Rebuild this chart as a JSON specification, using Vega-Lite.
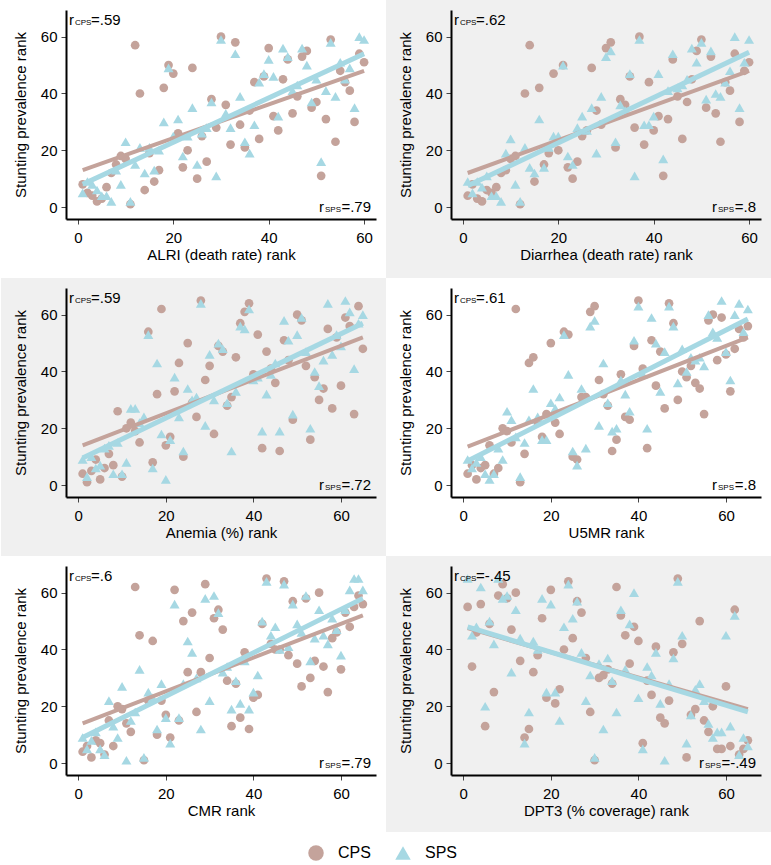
{
"$schema": "https://vega.github.io/schema/vega-lite/v6.json",
"background": "white",
"padding": 0,
"bounds": "flush",
"columns": 2,
"spacing": {"row": 69, "column": 75},
"config": {
  "font": "Liberation Sans",
  "view": {"stroke": null},
  "axis": {"grid": false, "domainColor": "#000000", "domainWidth": 2, "tickColor": "#444444", "tickSize": 5, "tickWidth": 1, "labelFont": "Liberation Sans", "labelFontSize": 15, "labelColor": "#000000", "titleFont": "Liberation Sans", "titleFontSize": 15, "titleFontWeight": "normal", "titleColor": "#000000", "labelOverlap": false, "labelFlush": false},
  "axisX": {"labelPadding": 6, "titlePadding": 2},
  "axisY": {"labelPadding": 4, "titlePadding": 12},
  "legend": {"symbolSize": 240, "labelFontSize": 16, "labelFont": "Liberation Sans", "labelColor": "#000000", "symbolStrokeWidth": 0, "symbolOpacity": 1, "labelOffset": 14, "columnPadding": 24, "padding": 0},
  "text": {"font": "Liberation Sans", "color": "#000000"}
},
"datasets": {
"p1": [
{"s":"CPS","x":1,"y":8},{"s":"CPS","x":2,"y":5},{"s":"CPS","x":3,"y":4},{"s":"CPS","x":4,"y":2},{"s":"CPS","x":5,"y":3},{"s":"CPS","x":6,"y":7},{"s":"CPS","x":7,"y":12},{"s":"CPS","x":8,"y":15},{"s":"CPS","x":9,"y":18},{"s":"CPS","x":10,"y":17},{"s":"CPS","x":11,"y":1},{"s":"CPS","x":12,"y":57},{"s":"CPS","x":13,"y":40},{"s":"CPS","x":14,"y":6},{"s":"CPS","x":15,"y":19},{"s":"CPS","x":16,"y":9},{"s":"CPS","x":17,"y":13},{"s":"CPS","x":18,"y":42},{"s":"CPS","x":19,"y":50},{"s":"CPS","x":20,"y":47},{"s":"CPS","x":21,"y":26},{"s":"CPS","x":22,"y":14},{"s":"CPS","x":23,"y":20},{"s":"CPS","x":24,"y":49},{"s":"CPS","x":25,"y":10},{"s":"CPS","x":26,"y":25},{"s":"CPS","x":27,"y":16},{"s":"CPS","x":28,"y":38},{"s":"CPS","x":29,"y":28},{"s":"CPS","x":30,"y":60},{"s":"CPS","x":31,"y":36},{"s":"CPS","x":32,"y":22},{"s":"CPS","x":33,"y":58},{"s":"CPS","x":34,"y":29},{"s":"CPS","x":35,"y":21},{"s":"CPS","x":36,"y":34},{"s":"CPS","x":37,"y":44},{"s":"CPS","x":38,"y":24},{"s":"CPS","x":39,"y":46},{"s":"CPS","x":40,"y":56},{"s":"CPS","x":41,"y":32},{"s":"CPS","x":42,"y":27},{"s":"CPS","x":43,"y":45},{"s":"CPS","x":44,"y":52},{"s":"CPS","x":45,"y":33},{"s":"CPS","x":46,"y":39},{"s":"CPS","x":47,"y":53},{"s":"CPS","x":48,"y":55},{"s":"CPS","x":49,"y":35},{"s":"CPS","x":50,"y":37},{"s":"CPS","x":51,"y":11},{"s":"CPS","x":52,"y":31},{"s":"CPS","x":53,"y":59},{"s":"CPS","x":54,"y":23},{"s":"CPS","x":55,"y":48},{"s":"CPS","x":56,"y":44},{"s":"CPS","x":57,"y":41},{"s":"CPS","x":58,"y":30},{"s":"CPS","x":59,"y":54},{"s":"CPS","x":60,"y":51},
{"s":"SPS","x":1,"y":5},{"s":"SPS","x":2,"y":9},{"s":"SPS","x":3,"y":8},{"s":"SPS","x":4,"y":6},{"s":"SPS","x":5,"y":4},{"s":"SPS","x":6,"y":4},{"s":"SPS","x":7,"y":2},{"s":"SPS","x":8,"y":13},{"s":"SPS","x":9,"y":8},{"s":"SPS","x":10,"y":23},{"s":"SPS","x":11,"y":2},{"s":"SPS","x":12,"y":15},{"s":"SPS","x":13,"y":21},{"s":"SPS","x":14,"y":12},{"s":"SPS","x":15,"y":21},{"s":"SPS","x":16,"y":13},{"s":"SPS","x":17,"y":20},{"s":"SPS","x":18,"y":30},{"s":"SPS","x":19,"y":49},{"s":"SPS","x":20,"y":25},{"s":"SPS","x":21,"y":31},{"s":"SPS","x":22,"y":18},{"s":"SPS","x":23,"y":25},{"s":"SPS","x":24,"y":35},{"s":"SPS","x":25,"y":15},{"s":"SPS","x":26,"y":26},{"s":"SPS","x":27,"y":28},{"s":"SPS","x":28,"y":37},{"s":"SPS","x":29,"y":11},{"s":"SPS","x":30,"y":59},{"s":"SPS","x":31,"y":33},{"s":"SPS","x":32,"y":28},{"s":"SPS","x":33,"y":54},{"s":"SPS","x":34,"y":39},{"s":"SPS","x":35,"y":23},{"s":"SPS","x":36,"y":19},{"s":"SPS","x":37,"y":29},{"s":"SPS","x":38,"y":44},{"s":"SPS","x":39,"y":47},{"s":"SPS","x":40,"y":52},{"s":"SPS","x":41,"y":46},{"s":"SPS","x":42,"y":32},{"s":"SPS","x":43,"y":56},{"s":"SPS","x":44,"y":53},{"s":"SPS","x":45,"y":41},{"s":"SPS","x":46,"y":43},{"s":"SPS","x":47,"y":56},{"s":"SPS","x":48,"y":50},{"s":"SPS","x":49,"y":37},{"s":"SPS","x":50,"y":45},{"s":"SPS","x":51,"y":16},{"s":"SPS","x":52,"y":41},{"s":"SPS","x":53,"y":58},{"s":"SPS","x":54,"y":39},{"s":"SPS","x":55,"y":51},{"s":"SPS","x":56,"y":45},{"s":"SPS","x":57,"y":49},{"s":"SPS","x":58,"y":35},{"s":"SPS","x":59,"y":60},{"s":"SPS","x":60,"y":59}
],
"p2": [
{"s":"CPS","x":1,"y":4},{"s":"CPS","x":2,"y":8},{"s":"CPS","x":3,"y":3},{"s":"CPS","x":4,"y":2},{"s":"CPS","x":5,"y":6},{"s":"CPS","x":6,"y":5},{"s":"CPS","x":7,"y":7},{"s":"CPS","x":8,"y":12},{"s":"CPS","x":9,"y":13},{"s":"CPS","x":10,"y":17},{"s":"CPS","x":11,"y":18},{"s":"CPS","x":12,"y":1},{"s":"CPS","x":13,"y":40},{"s":"CPS","x":14,"y":57},{"s":"CPS","x":15,"y":9},{"s":"CPS","x":16,"y":42},{"s":"CPS","x":17,"y":15},{"s":"CPS","x":18,"y":19},{"s":"CPS","x":19,"y":47},{"s":"CPS","x":20,"y":20},{"s":"CPS","x":21,"y":50},{"s":"CPS","x":22,"y":14},{"s":"CPS","x":23,"y":10},{"s":"CPS","x":24,"y":16},{"s":"CPS","x":25,"y":25},{"s":"CPS","x":26,"y":27},{"s":"CPS","x":27,"y":49},{"s":"CPS","x":28,"y":34},{"s":"CPS","x":29,"y":29},{"s":"CPS","x":30,"y":56},{"s":"CPS","x":31,"y":58},{"s":"CPS","x":32,"y":21},{"s":"CPS","x":33,"y":38},{"s":"CPS","x":34,"y":36},{"s":"CPS","x":35,"y":46},{"s":"CPS","x":36,"y":28},{"s":"CPS","x":37,"y":60},{"s":"CPS","x":38,"y":22},{"s":"CPS","x":39,"y":44},{"s":"CPS","x":40,"y":27},{"s":"CPS","x":41,"y":32},{"s":"CPS","x":42,"y":11},{"s":"CPS","x":43,"y":31},{"s":"CPS","x":44,"y":52},{"s":"CPS","x":45,"y":39},{"s":"CPS","x":46,"y":24},{"s":"CPS","x":47,"y":37},{"s":"CPS","x":48,"y":45},{"s":"CPS","x":49,"y":55},{"s":"CPS","x":50,"y":59},{"s":"CPS","x":51,"y":35},{"s":"CPS","x":52,"y":53},{"s":"CPS","x":53,"y":33},{"s":"CPS","x":54,"y":23},{"s":"CPS","x":55,"y":44},{"s":"CPS","x":56,"y":41},{"s":"CPS","x":57,"y":54},{"s":"CPS","x":58,"y":30},{"s":"CPS","x":59,"y":48},{"s":"CPS","x":60,"y":51},
{"s":"SPS","x":1,"y":9},{"s":"SPS","x":2,"y":5},{"s":"SPS","x":3,"y":9},{"s":"SPS","x":4,"y":7},{"s":"SPS","x":5,"y":11},{"s":"SPS","x":6,"y":4},{"s":"SPS","x":7,"y":4},{"s":"SPS","x":8,"y":2},{"s":"SPS","x":9,"y":19},{"s":"SPS","x":10,"y":24},{"s":"SPS","x":11,"y":8},{"s":"SPS","x":12,"y":2},{"s":"SPS","x":13,"y":21},{"s":"SPS","x":14,"y":14},{"s":"SPS","x":15,"y":12},{"s":"SPS","x":16,"y":31},{"s":"SPS","x":17,"y":14},{"s":"SPS","x":18,"y":21},{"s":"SPS","x":19,"y":25},{"s":"SPS","x":20,"y":25},{"s":"SPS","x":21,"y":50},{"s":"SPS","x":22,"y":18},{"s":"SPS","x":23,"y":15},{"s":"SPS","x":24,"y":28},{"s":"SPS","x":25,"y":32},{"s":"SPS","x":26,"y":27},{"s":"SPS","x":27,"y":35},{"s":"SPS","x":28,"y":19},{"s":"SPS","x":29,"y":39},{"s":"SPS","x":30,"y":53},{"s":"SPS","x":31,"y":55},{"s":"SPS","x":32,"y":23},{"s":"SPS","x":33,"y":36},{"s":"SPS","x":34,"y":34},{"s":"SPS","x":35,"y":47},{"s":"SPS","x":36,"y":11},{"s":"SPS","x":37,"y":59},{"s":"SPS","x":38,"y":29},{"s":"SPS","x":39,"y":29},{"s":"SPS","x":40,"y":32},{"s":"SPS","x":41,"y":47},{"s":"SPS","x":42,"y":17},{"s":"SPS","x":43,"y":41},{"s":"SPS","x":44,"y":54},{"s":"SPS","x":45,"y":42},{"s":"SPS","x":46,"y":43},{"s":"SPS","x":47,"y":45},{"s":"SPS","x":48,"y":56},{"s":"SPS","x":49,"y":51},{"s":"SPS","x":50,"y":58},{"s":"SPS","x":51,"y":38},{"s":"SPS","x":52,"y":55},{"s":"SPS","x":53,"y":40},{"s":"SPS","x":54,"y":39},{"s":"SPS","x":55,"y":44},{"s":"SPS","x":56,"y":48},{"s":"SPS","x":57,"y":60},{"s":"SPS","x":58,"y":35},{"s":"SPS","x":59,"y":51},{"s":"SPS","x":60,"y":59}
],
"p3": [
{"s":"CPS","x":1,"y":4},{"s":"CPS","x":2,"y":1},{"s":"CPS","x":3,"y":5},{"s":"CPS","x":4,"y":9},{"s":"CPS","x":5,"y":2},{"s":"CPS","x":6,"y":6},{"s":"CPS","x":7,"y":11},{"s":"CPS","x":8,"y":7},{"s":"CPS","x":9,"y":26},{"s":"CPS","x":10,"y":3},{"s":"CPS","x":11,"y":20},{"s":"CPS","x":12,"y":22},{"s":"CPS","x":13,"y":19},{"s":"CPS","x":14,"y":15},{"s":"CPS","x":16,"y":54},{"s":"CPS","x":17,"y":8},{"s":"CPS","x":18,"y":32},{"s":"CPS","x":19,"y":62},{"s":"CPS","x":20,"y":14},{"s":"CPS","x":21,"y":17},{"s":"CPS","x":22,"y":33},{"s":"CPS","x":23,"y":43},{"s":"CPS","x":24,"y":10},{"s":"CPS","x":25,"y":50},{"s":"CPS","x":26,"y":29},{"s":"CPS","x":27,"y":24},{"s":"CPS","x":28,"y":65},{"s":"CPS","x":29,"y":37},{"s":"CPS","x":30,"y":42},{"s":"CPS","x":31,"y":18},{"s":"CPS","x":32,"y":49},{"s":"CPS","x":33,"y":47},{"s":"CPS","x":34,"y":28},{"s":"CPS","x":35,"y":31},{"s":"CPS","x":36,"y":45},{"s":"CPS","x":37,"y":57},{"s":"CPS","x":38,"y":61},{"s":"CPS","x":39,"y":64},{"s":"CPS","x":40,"y":39},{"s":"CPS","x":41,"y":53},{"s":"CPS","x":42,"y":13},{"s":"CPS","x":43,"y":47},{"s":"CPS","x":44,"y":41},{"s":"CPS","x":45,"y":36},{"s":"CPS","x":46,"y":12},{"s":"CPS","x":47,"y":51},{"s":"CPS","x":48,"y":44},{"s":"CPS","x":49,"y":23},{"s":"CPS","x":50,"y":60},{"s":"CPS","x":51,"y":58},{"s":"CPS","x":52,"y":42},{"s":"CPS","x":53,"y":16},{"s":"CPS","x":54,"y":38},{"s":"CPS","x":55,"y":30},{"s":"CPS","x":56,"y":34},{"s":"CPS","x":57,"y":55},{"s":"CPS","x":58,"y":27},{"s":"CPS","x":59,"y":52},{"s":"CPS","x":60,"y":35},{"s":"CPS","x":61,"y":59},{"s":"CPS","x":62,"y":56},{"s":"CPS","x":63,"y":25},{"s":"CPS","x":64,"y":63},{"s":"CPS","x":65,"y":48},
{"s":"SPS","x":1,"y":9},{"s":"SPS","x":2,"y":3},{"s":"SPS","x":3,"y":10},{"s":"SPS","x":4,"y":6},{"s":"SPS","x":5,"y":7},{"s":"SPS","x":6,"y":13},{"s":"SPS","x":7,"y":14},{"s":"SPS","x":8,"y":4},{"s":"SPS","x":9,"y":15},{"s":"SPS","x":10,"y":4},{"s":"SPS","x":11,"y":8},{"s":"SPS","x":12,"y":27},{"s":"SPS","x":13,"y":27},{"s":"SPS","x":14,"y":22},{"s":"SPS","x":15,"y":24},{"s":"SPS","x":16,"y":53},{"s":"SPS","x":17,"y":6},{"s":"SPS","x":18,"y":43},{"s":"SPS","x":19,"y":18},{"s":"SPS","x":20,"y":2},{"s":"SPS","x":21,"y":16},{"s":"SPS","x":22,"y":38},{"s":"SPS","x":23,"y":24},{"s":"SPS","x":24,"y":12},{"s":"SPS","x":25,"y":34},{"s":"SPS","x":26,"y":30},{"s":"SPS","x":27,"y":31},{"s":"SPS","x":28,"y":64},{"s":"SPS","x":29,"y":21},{"s":"SPS","x":30,"y":46},{"s":"SPS","x":31,"y":30},{"s":"SPS","x":32,"y":50},{"s":"SPS","x":33,"y":48},{"s":"SPS","x":34,"y":29},{"s":"SPS","x":35,"y":12},{"s":"SPS","x":36,"y":33},{"s":"SPS","x":37,"y":56},{"s":"SPS","x":38,"y":55},{"s":"SPS","x":39,"y":62},{"s":"SPS","x":40,"y":37},{"s":"SPS","x":41,"y":38},{"s":"SPS","x":42,"y":19},{"s":"SPS","x":43,"y":32},{"s":"SPS","x":44,"y":39},{"s":"SPS","x":45,"y":43},{"s":"SPS","x":46,"y":19},{"s":"SPS","x":47,"y":58},{"s":"SPS","x":48,"y":51},{"s":"SPS","x":49,"y":25},{"s":"SPS","x":50,"y":53},{"s":"SPS","x":51,"y":59},{"s":"SPS","x":52,"y":47},{"s":"SPS","x":53,"y":20},{"s":"SPS","x":54,"y":40},{"s":"SPS","x":55,"y":35},{"s":"SPS","x":56,"y":44},{"s":"SPS","x":57,"y":64},{"s":"SPS","x":58,"y":46},{"s":"SPS","x":59,"y":53},{"s":"SPS","x":60,"y":49},{"s":"SPS","x":61,"y":65},{"s":"SPS","x":62,"y":61},{"s":"SPS","x":63,"y":41},{"s":"SPS","x":64,"y":57},{"s":"SPS","x":65,"y":60}
],
"p4": [
{"s":"CPS","x":1,"y":4},{"s":"CPS","x":2,"y":7},{"s":"CPS","x":3,"y":2},{"s":"CPS","x":4,"y":6},{"s":"CPS","x":5,"y":7},{"s":"CPS","x":6,"y":14},{"s":"CPS","x":7,"y":4},{"s":"CPS","x":8,"y":6},{"s":"CPS","x":9,"y":20},{"s":"CPS","x":10,"y":19},{"s":"CPS","x":11,"y":15},{"s":"CPS","x":12,"y":62},{"s":"CPS","x":13,"y":1},{"s":"CPS","x":14,"y":11},{"s":"CPS","x":15,"y":43},{"s":"CPS","x":16,"y":45},{"s":"CPS","x":17,"y":22},{"s":"CPS","x":18,"y":17},{"s":"CPS","x":19,"y":25},{"s":"CPS","x":20,"y":50},{"s":"CPS","x":21,"y":22},{"s":"CPS","x":22,"y":18},{"s":"CPS","x":23,"y":54},{"s":"CPS","x":24,"y":53},{"s":"CPS","x":25,"y":10},{"s":"CPS","x":26,"y":9},{"s":"CPS","x":27,"y":31},{"s":"CPS","x":28,"y":31},{"s":"CPS","x":29,"y":61},{"s":"CPS","x":30,"y":63},{"s":"CPS","x":31,"y":37},{"s":"CPS","x":32,"y":32},{"s":"CPS","x":33,"y":28},{"s":"CPS","x":34,"y":12},{"s":"CPS","x":35,"y":16},{"s":"CPS","x":36,"y":39},{"s":"CPS","x":37,"y":24},{"s":"CPS","x":38,"y":23},{"s":"CPS","x":39,"y":49},{"s":"CPS","x":40,"y":65},{"s":"CPS","x":41,"y":41},{"s":"CPS","x":42,"y":13},{"s":"CPS","x":43,"y":51},{"s":"CPS","x":44,"y":35},{"s":"CPS","x":45,"y":47},{"s":"CPS","x":46,"y":27},{"s":"CPS","x":47,"y":64},{"s":"CPS","x":48,"y":57},{"s":"CPS","x":49,"y":30},{"s":"CPS","x":50,"y":40},{"s":"CPS","x":51,"y":38},{"s":"CPS","x":52,"y":42},{"s":"CPS","x":53,"y":36},{"s":"CPS","x":54,"y":34},{"s":"CPS","x":55,"y":25},{"s":"CPS","x":56,"y":58},{"s":"CPS","x":57,"y":60},{"s":"CPS","x":58,"y":44},{"s":"CPS","x":59,"y":59},{"s":"CPS","x":60,"y":46},{"s":"CPS","x":61,"y":33},{"s":"CPS","x":62,"y":48},{"s":"CPS","x":63,"y":55},{"s":"CPS","x":64,"y":52},{"s":"CPS","x":65,"y":56},
{"s":"SPS","x":1,"y":9},{"s":"SPS","x":2,"y":6},{"s":"SPS","x":3,"y":8},{"s":"SPS","x":4,"y":10},{"s":"SPS","x":5,"y":4},{"s":"SPS","x":6,"y":2},{"s":"SPS","x":7,"y":4},{"s":"SPS","x":8,"y":13},{"s":"SPS","x":9,"y":9},{"s":"SPS","x":10,"y":26},{"s":"SPS","x":11,"y":23},{"s":"SPS","x":12,"y":17},{"s":"SPS","x":13,"y":3},{"s":"SPS","x":14,"y":15},{"s":"SPS","x":15,"y":23},{"s":"SPS","x":16,"y":34},{"s":"SPS","x":17,"y":24},{"s":"SPS","x":18,"y":16},{"s":"SPS","x":19,"y":16},{"s":"SPS","x":20,"y":29},{"s":"SPS","x":21,"y":27},{"s":"SPS","x":22,"y":31},{"s":"SPS","x":23,"y":53},{"s":"SPS","x":24,"y":39},{"s":"SPS","x":25,"y":12},{"s":"SPS","x":26,"y":7},{"s":"SPS","x":27,"y":34},{"s":"SPS","x":28,"y":13},{"s":"SPS","x":29,"y":56},{"s":"SPS","x":30,"y":58},{"s":"SPS","x":31,"y":21},{"s":"SPS","x":32,"y":43},{"s":"SPS","x":33,"y":29},{"s":"SPS","x":34,"y":19},{"s":"SPS","x":35,"y":20},{"s":"SPS","x":36,"y":37},{"s":"SPS","x":37,"y":32},{"s":"SPS","x":38,"y":26},{"s":"SPS","x":39,"y":51},{"s":"SPS","x":40,"y":63},{"s":"SPS","x":41,"y":39},{"s":"SPS","x":42,"y":20},{"s":"SPS","x":43,"y":59},{"s":"SPS","x":44,"y":50},{"s":"SPS","x":45,"y":33},{"s":"SPS","x":46,"y":47},{"s":"SPS","x":47,"y":63},{"s":"SPS","x":48,"y":56},{"s":"SPS","x":49,"y":36},{"s":"SPS","x":50,"y":48},{"s":"SPS","x":51,"y":40},{"s":"SPS","x":52,"y":45},{"s":"SPS","x":53,"y":44},{"s":"SPS","x":54,"y":45},{"s":"SPS","x":55,"y":42},{"s":"SPS","x":56,"y":60},{"s":"SPS","x":57,"y":54},{"s":"SPS","x":58,"y":52},{"s":"SPS","x":59,"y":65},{"s":"SPS","x":60,"y":47},{"s":"SPS","x":61,"y":37},{"s":"SPS","x":62,"y":60},{"s":"SPS","x":63,"y":64},{"s":"SPS","x":64,"y":54},{"s":"SPS","x":65,"y":62}
],
"p5": [
{"s":"CPS","x":1,"y":4},{"s":"CPS","x":2,"y":6},{"s":"CPS","x":3,"y":2},{"s":"CPS","x":4,"y":8},{"s":"CPS","x":5,"y":7},{"s":"CPS","x":6,"y":3},{"s":"CPS","x":7,"y":15},{"s":"CPS","x":8,"y":6},{"s":"CPS","x":9,"y":20},{"s":"CPS","x":10,"y":19},{"s":"CPS","x":11,"y":14},{"s":"CPS","x":12,"y":11},{"s":"CPS","x":13,"y":62},{"s":"CPS","x":14,"y":45},{"s":"CPS","x":15,"y":1},{"s":"CPS","x":16,"y":22},{"s":"CPS","x":17,"y":43},{"s":"CPS","x":18,"y":10},{"s":"CPS","x":19,"y":22},{"s":"CPS","x":20,"y":17},{"s":"CPS","x":21,"y":9},{"s":"CPS","x":22,"y":61},{"s":"CPS","x":23,"y":15},{"s":"CPS","x":24,"y":50},{"s":"CPS","x":25,"y":32},{"s":"CPS","x":26,"y":53},{"s":"CPS","x":27,"y":18},{"s":"CPS","x":28,"y":32},{"s":"CPS","x":29,"y":63},{"s":"CPS","x":30,"y":37},{"s":"CPS","x":31,"y":51},{"s":"CPS","x":32,"y":54},{"s":"CPS","x":33,"y":47},{"s":"CPS","x":34,"y":29},{"s":"CPS","x":35,"y":13},{"s":"CPS","x":36,"y":28},{"s":"CPS","x":37,"y":16},{"s":"CPS","x":38,"y":39},{"s":"CPS","x":39,"y":12},{"s":"CPS","x":40,"y":23},{"s":"CPS","x":41,"y":24},{"s":"CPS","x":42,"y":49},{"s":"CPS","x":43,"y":65},{"s":"CPS","x":44,"y":42},{"s":"CPS","x":45,"y":40},{"s":"CPS","x":46,"y":40},{"s":"CPS","x":47,"y":64},{"s":"CPS","x":48,"y":38},{"s":"CPS","x":49,"y":57},{"s":"CPS","x":50,"y":35},{"s":"CPS","x":51,"y":27},{"s":"CPS","x":52,"y":58},{"s":"CPS","x":53,"y":30},{"s":"CPS","x":54,"y":36},{"s":"CPS","x":55,"y":60},{"s":"CPS","x":56,"y":34},{"s":"CPS","x":57,"y":25},{"s":"CPS","x":58,"y":44},{"s":"CPS","x":59,"y":46},{"s":"CPS","x":60,"y":33},{"s":"CPS","x":61,"y":53},{"s":"CPS","x":62,"y":48},{"s":"CPS","x":63,"y":55},{"s":"CPS","x":64,"y":59},{"s":"CPS","x":65,"y":56},
{"s":"SPS","x":1,"y":9},{"s":"SPS","x":2,"y":5},{"s":"SPS","x":3,"y":8},{"s":"SPS","x":4,"y":11},{"s":"SPS","x":5,"y":5},{"s":"SPS","x":6,"y":3},{"s":"SPS","x":7,"y":22},{"s":"SPS","x":8,"y":13},{"s":"SPS","x":9,"y":9},{"s":"SPS","x":10,"y":27},{"s":"SPS","x":11,"y":1},{"s":"SPS","x":12,"y":15},{"s":"SPS","x":13,"y":18},{"s":"SPS","x":14,"y":33},{"s":"SPS","x":15,"y":2},{"s":"SPS","x":16,"y":25},{"s":"SPS","x":17,"y":23},{"s":"SPS","x":18,"y":12},{"s":"SPS","x":19,"y":28},{"s":"SPS","x":20,"y":16},{"s":"SPS","x":21,"y":7},{"s":"SPS","x":22,"y":56},{"s":"SPS","x":23,"y":16},{"s":"SPS","x":24,"y":28},{"s":"SPS","x":25,"y":43},{"s":"SPS","x":26,"y":39},{"s":"SPS","x":27,"y":30},{"s":"SPS","x":28,"y":12},{"s":"SPS","x":29,"y":58},{"s":"SPS","x":30,"y":22},{"s":"SPS","x":31,"y":59},{"s":"SPS","x":32,"y":53},{"s":"SPS","x":33,"y":32},{"s":"SPS","x":34,"y":34},{"s":"SPS","x":35,"y":19},{"s":"SPS","x":36,"y":29},{"s":"SPS","x":37,"y":21},{"s":"SPS","x":38,"y":36},{"s":"SPS","x":39,"y":19},{"s":"SPS","x":40,"y":25},{"s":"SPS","x":41,"y":31},{"s":"SPS","x":42,"y":50},{"s":"SPS","x":43,"y":64},{"s":"SPS","x":44,"y":45},{"s":"SPS","x":45,"y":48},{"s":"SPS","x":46,"y":40},{"s":"SPS","x":47,"y":63},{"s":"SPS","x":48,"y":41},{"s":"SPS","x":49,"y":56},{"s":"SPS","x":50,"y":49},{"s":"SPS","x":51,"y":46},{"s":"SPS","x":52,"y":59},{"s":"SPS","x":53,"y":36},{"s":"SPS","x":54,"y":44},{"s":"SPS","x":55,"y":54},{"s":"SPS","x":56,"y":45},{"s":"SPS","x":57,"y":42},{"s":"SPS","x":58,"y":51},{"s":"SPS","x":59,"y":47},{"s":"SPS","x":60,"y":38},{"s":"SPS","x":61,"y":54},{"s":"SPS","x":62,"y":61},{"s":"SPS","x":63,"y":65},{"s":"SPS","x":64,"y":65},{"s":"SPS","x":65,"y":61}
],
"p6": [
{"s":"CPS","x":1,"y":55},{"s":"CPS","x":2,"y":34},{"s":"CPS","x":3,"y":46},{"s":"CPS","x":4,"y":56},{"s":"CPS","x":5,"y":13},{"s":"CPS","x":6,"y":49},{"s":"CPS","x":7,"y":25},{"s":"CPS","x":8,"y":59},{"s":"CPS","x":9,"y":63},{"s":"CPS","x":10,"y":58},{"s":"CPS","x":11,"y":47},{"s":"CPS","x":12,"y":60},{"s":"CPS","x":13,"y":36},{"s":"CPS","x":14,"y":9},{"s":"CPS","x":15,"y":12},{"s":"CPS","x":16,"y":32},{"s":"CPS","x":17,"y":38},{"s":"CPS","x":18,"y":51},{"s":"CPS","x":19,"y":23},{"s":"CPS","x":20,"y":61},{"s":"CPS","x":21,"y":21},{"s":"CPS","x":22,"y":26},{"s":"CPS","x":23,"y":40},{"s":"CPS","x":24,"y":64},{"s":"CPS","x":25,"y":44},{"s":"CPS","x":26,"y":57},{"s":"CPS","x":27,"y":53},{"s":"CPS","x":28,"y":37},{"s":"CPS","x":29,"y":18},{"s":"CPS","x":30,"y":1},{"s":"CPS","x":31,"y":30},{"s":"CPS","x":32,"y":31},{"s":"CPS","x":33,"y":33},{"s":"CPS","x":34,"y":28},{"s":"CPS","x":35,"y":62},{"s":"CPS","x":36,"y":52},{"s":"CPS","x":37,"y":45},{"s":"CPS","x":38,"y":35},{"s":"CPS","x":39,"y":48},{"s":"CPS","x":40,"y":43},{"s":"CPS","x":41,"y":7},{"s":"CPS","x":42,"y":29},{"s":"CPS","x":43,"y":24},{"s":"CPS","x":44,"y":41},{"s":"CPS","x":45,"y":16},{"s":"CPS","x":46,"y":14},{"s":"CPS","x":47,"y":22},{"s":"CPS","x":48,"y":39},{"s":"CPS","x":49,"y":65},{"s":"CPS","x":50,"y":42},{"s":"CPS","x":51,"y":2},{"s":"CPS","x":52,"y":17},{"s":"CPS","x":53,"y":19},{"s":"CPS","x":54,"y":50},{"s":"CPS","x":55,"y":15},{"s":"CPS","x":56,"y":11},{"s":"CPS","x":57,"y":20},{"s":"CPS","x":58,"y":5},{"s":"CPS","x":59,"y":5},{"s":"CPS","x":60,"y":27},{"s":"CPS","x":61,"y":6},{"s":"CPS","x":62,"y":54},{"s":"CPS","x":63,"y":3},{"s":"CPS","x":64,"y":5},{"s":"CPS","x":65,"y":8},
{"s":"SPS","x":1,"y":65},{"s":"SPS","x":2,"y":45},{"s":"SPS","x":3,"y":48},{"s":"SPS","x":4,"y":62},{"s":"SPS","x":5,"y":20},{"s":"SPS","x":6,"y":50},{"s":"SPS","x":7,"y":42},{"s":"SPS","x":8,"y":65},{"s":"SPS","x":9,"y":58},{"s":"SPS","x":10,"y":59},{"s":"SPS","x":11,"y":32},{"s":"SPS","x":12,"y":54},{"s":"SPS","x":13,"y":44},{"s":"SPS","x":14,"y":7},{"s":"SPS","x":15,"y":18},{"s":"SPS","x":16,"y":43},{"s":"SPS","x":17,"y":40},{"s":"SPS","x":18,"y":58},{"s":"SPS","x":19,"y":25},{"s":"SPS","x":20,"y":56},{"s":"SPS","x":21,"y":25},{"s":"SPS","x":22,"y":15},{"s":"SPS","x":23,"y":48},{"s":"SPS","x":24,"y":63},{"s":"SPS","x":25,"y":51},{"s":"SPS","x":26,"y":57},{"s":"SPS","x":27,"y":39},{"s":"SPS","x":28,"y":22},{"s":"SPS","x":29,"y":31},{"s":"SPS","x":30,"y":2},{"s":"SPS","x":31,"y":35},{"s":"SPS","x":32,"y":12},{"s":"SPS","x":33,"y":37},{"s":"SPS","x":34,"y":29},{"s":"SPS","x":35,"y":18},{"s":"SPS","x":36,"y":54},{"s":"SPS","x":37,"y":33},{"s":"SPS","x":38,"y":49},{"s":"SPS","x":39,"y":60},{"s":"SPS","x":40,"y":23},{"s":"SPS","x":41,"y":5},{"s":"SPS","x":42,"y":34},{"s":"SPS","x":43,"y":31},{"s":"SPS","x":44,"y":39},{"s":"SPS","x":45,"y":21},{"s":"SPS","x":46,"y":1},{"s":"SPS","x":47,"y":28},{"s":"SPS","x":48,"y":37},{"s":"SPS","x":49,"y":64},{"s":"SPS","x":50,"y":45},{"s":"SPS","x":51,"y":7},{"s":"SPS","x":52,"y":17},{"s":"SPS","x":53,"y":26},{"s":"SPS","x":54,"y":28},{"s":"SPS","x":55,"y":22},{"s":"SPS","x":56,"y":14},{"s":"SPS","x":57,"y":9},{"s":"SPS","x":58,"y":11},{"s":"SPS","x":59,"y":11},{"s":"SPS","x":60,"y":45},{"s":"SPS","x":61,"y":13},{"s":"SPS","x":62,"y":52},{"s":"SPS","x":63,"y":3},{"s":"SPS","x":64,"y":9},{"s":"SPS","x":65,"y":6}
],
"fits": [
{"p":1,"s":"CPS","x":1,"y":13},{"p":1,"s":"CPS","x":60,"y":48},{"p":1,"s":"SPS","x":1,"y":8},{"p":1,"s":"SPS","x":60,"y":54},
{"p":2,"s":"CPS","x":1,"y":12},{"p":2,"s":"CPS","x":60,"y":48},{"p":2,"s":"SPS","x":1,"y":7.5},{"p":2,"s":"SPS","x":60,"y":54.5},
{"p":3,"s":"CPS","x":1,"y":14},{"p":3,"s":"CPS","x":65,"y":52},{"p":3,"s":"SPS","x":1,"y":9.5},{"p":3,"s":"SPS","x":65,"y":57},
{"p":4,"s":"CPS","x":1,"y":13.5},{"p":4,"s":"CPS","x":65,"y":52},{"p":4,"s":"SPS","x":1,"y":8.5},{"p":4,"s":"SPS","x":65,"y":58.5},
{"p":5,"s":"CPS","x":1,"y":14},{"p":5,"s":"CPS","x":65,"y":52},{"p":5,"s":"SPS","x":1,"y":9},{"p":5,"s":"SPS","x":65,"y":58},
{"p":6,"s":"CPS","x":1,"y":47.5},{"p":6,"s":"CPS","x":65,"y":19},{"p":6,"s":"SPS","x":1,"y":48},{"p":6,"s":"SPS","x":65,"y":18}
]
},
"concat": [
{
"width": 310, "height": 209,
"layer": [
{"data": {"name": "p1"}, "transform": [{"filter": "datum.s == 'CPS'"}], "mark": {"type": "point", "filled": true, "opacity": 1, "size": 76, "strokeWidth": 0},
 "encoding": {"x": {"field": "x", "type": "quantitative", "scale": {"domain": [-2.5, 62.5], "nice": false, "zero": false}, "axis": {"title": "ALRI (death rate) rank", "values": [0, 20, 40, 60], "zindex": 1}},
  "y": {"field": "y", "type": "quantitative", "scale": {"domain": [-4.2, 69.4], "nice": false, "zero": false}, "axis": {"title": "Stunting prevalence rank", "values": [0, 20, 40, 60], "zindex": 1}},
  "color": {"field": "s", "type": "nominal", "scale": {"domain": ["CPS", "SPS"], "range": ["#c4a39b", "#a6d8e3"]}, "legend": {"title": null, "orient": "none", "direction": "horizontal", "legendX": 242, "legendY": 835}},
  "shape": {"field": "s", "type": "nominal", "scale": {"domain": ["CPS", "SPS"], "range": ["circle", "triangle-up"]}, "legend": {"title": null, "orient": "none", "direction": "horizontal", "legendX": 242, "legendY": 835}}}},
{"data": {"name": "p1"}, "transform": [{"filter": "datum.s == 'SPS'"}], "mark": {"type": "point", "filled": true, "opacity": 1, "size": 100, "strokeWidth": 0},
 "encoding": {"x": {"field": "x", "type": "quantitative"}, "y": {"field": "y", "type": "quantitative"},
  "color": {"field": "s", "type": "nominal", "legend": null}, "shape": {"field": "s", "type": "nominal", "legend": null}}},
{"data": {"name": "fits"}, "transform": [{"filter": "datum.p == 1 && datum.s == 'CPS'"}], "mark": {"type": "line", "color": "#c4a39b", "strokeWidth": 4},
 "encoding": {"x": {"field": "x", "type": "quantitative"}, "y": {"field": "y", "type": "quantitative"}}},
{"data": {"name": "fits"}, "transform": [{"filter": "datum.p == 1 && datum.s == 'SPS'"}], "mark": {"type": "line", "color": "#a6d8e3", "strokeWidth": 5},
 "encoding": {"x": {"field": "x", "type": "quantitative"}, "y": {"field": "y", "type": "quantitative"}}},
{"data": {"values": [{}]}, "mark": {"type": "text", "align": "left", "baseline": "alphabetic", "dx": 3, "dy": 15, "fontSize": 15, "text": "r"}, "encoding": {"x": {"datum": -2.5, "type": "quantitative"}, "y": {"datum": 69.4, "type": "quantitative"}}},
{"data": {"values": [{}]}, "mark": {"type": "text", "align": "left", "baseline": "alphabetic", "dx": 9, "dy": 15, "fontSize": 8, "text": "CPS"}, "encoding": {"x": {"datum": -2.5, "type": "quantitative"}, "y": {"datum": 69.4, "type": "quantitative"}}},
{"data": {"values": [{}]}, "mark": {"type": "text", "align": "left", "baseline": "alphabetic", "dx": 25, "dy": 15, "fontSize": 15, "text": "=.59"}, "encoding": {"x": {"datum": -2.5, "type": "quantitative"}, "y": {"datum": 69.4, "type": "quantitative"}}},
{"data": {"values": [{}]}, "mark": {"type": "text", "align": "right", "baseline": "alphabetic", "dx": -52, "dy": -7, "fontSize": 15, "text": "r"}, "encoding": {"x": {"datum": 62.5, "type": "quantitative"}, "y": {"datum": -4.2, "type": "quantitative"}}},
{"data": {"values": [{}]}, "mark": {"type": "text", "align": "right", "baseline": "alphabetic", "dx": -35, "dy": -7, "fontSize": 8, "text": "SPS"}, "encoding": {"x": {"datum": 62.5, "type": "quantitative"}, "y": {"datum": -4.2, "type": "quantitative"}}},
{"data": {"values": [{}]}, "mark": {"type": "text", "align": "right", "baseline": "alphabetic", "dx": -5, "dy": -7, "fontSize": 15, "text": "=.79"}, "encoding": {"x": {"datum": 62.5, "type": "quantitative"}, "y": {"datum": -4.2, "type": "quantitative"}}}
]
},
{
"width": 310, "height": 209,
"layer": [
{"data": {"values": [{}]}, "mark": {"type": "rect", "color": "#f0f0f0"}, "encoding": {"x": {"datum": -16.13, "type": "quantitative"}, "x2": {"datum": 64.8}, "y": {"datum": 72.92, "type": "quantitative"}, "y2": {"datum": -24.98}}},
{"data": {"name": "p2"}, "transform": [{"filter": "datum.s == 'CPS'"}], "mark": {"type": "point", "filled": true, "opacity": 1, "size": 76, "strokeWidth": 0},
 "encoding": {"x": {"field": "x", "type": "quantitative", "scale": {"domain": [-2.5, 62.5], "nice": false, "zero": false}, "axis": {"title": "Diarrhea (death rate) rank", "values": [0, 20, 40, 60], "zindex": 1}},
  "y": {"field": "y", "type": "quantitative", "scale": {"domain": [-4.2, 69.4], "nice": false, "zero": false}, "axis": {"title": "Stunting prevalence rank", "values": [0, 20, 40, 60], "zindex": 1}},
  "color": {"field": "s", "type": "nominal", "legend": null}, "shape": {"field": "s", "type": "nominal", "legend": null}}},
{"data": {"name": "p2"}, "transform": [{"filter": "datum.s == 'SPS'"}], "mark": {"type": "point", "filled": true, "opacity": 1, "size": 100, "strokeWidth": 0},
 "encoding": {"x": {"field": "x", "type": "quantitative"}, "y": {"field": "y", "type": "quantitative"},
  "color": {"field": "s", "type": "nominal", "legend": null}, "shape": {"field": "s", "type": "nominal", "legend": null}}},
{"data": {"name": "fits"}, "transform": [{"filter": "datum.p == 2 && datum.s == 'CPS'"}], "mark": {"type": "line", "color": "#c4a39b", "strokeWidth": 4},
 "encoding": {"x": {"field": "x", "type": "quantitative"}, "y": {"field": "y", "type": "quantitative"}}},
{"data": {"name": "fits"}, "transform": [{"filter": "datum.p == 2 && datum.s == 'SPS'"}], "mark": {"type": "line", "color": "#a6d8e3", "strokeWidth": 5},
 "encoding": {"x": {"field": "x", "type": "quantitative"}, "y": {"field": "y", "type": "quantitative"}}},
{"data": {"values": [{}]}, "mark": {"type": "text", "align": "left", "baseline": "alphabetic", "dx": 3, "dy": 15, "fontSize": 15, "text": "r"}, "encoding": {"x": {"datum": -2.5, "type": "quantitative"}, "y": {"datum": 69.4, "type": "quantitative"}}},
{"data": {"values": [{}]}, "mark": {"type": "text", "align": "left", "baseline": "alphabetic", "dx": 9, "dy": 15, "fontSize": 8, "text": "CPS"}, "encoding": {"x": {"datum": -2.5, "type": "quantitative"}, "y": {"datum": 69.4, "type": "quantitative"}}},
{"data": {"values": [{}]}, "mark": {"type": "text", "align": "left", "baseline": "alphabetic", "dx": 25, "dy": 15, "fontSize": 15, "text": "=.62"}, "encoding": {"x": {"datum": -2.5, "type": "quantitative"}, "y": {"datum": 69.4, "type": "quantitative"}}},
{"data": {"values": [{}]}, "mark": {"type": "text", "align": "right", "baseline": "alphabetic", "dx": -44, "dy": -7, "fontSize": 15, "text": "r"}, "encoding": {"x": {"datum": 62.5, "type": "quantitative"}, "y": {"datum": -4.2, "type": "quantitative"}}},
{"data": {"values": [{}]}, "mark": {"type": "text", "align": "right", "baseline": "alphabetic", "dx": -27, "dy": -7, "fontSize": 8, "text": "SPS"}, "encoding": {"x": {"datum": 62.5, "type": "quantitative"}, "y": {"datum": -4.2, "type": "quantitative"}}},
{"data": {"values": [{}]}, "mark": {"type": "text", "align": "right", "baseline": "alphabetic", "dx": -5, "dy": -7, "fontSize": 15, "text": "=.8"}, "encoding": {"x": {"datum": 62.5, "type": "quantitative"}, "y": {"datum": -4.2, "type": "quantitative"}}}
]
},
{
"width": 310, "height": 209,
"layer": [
{"data": {"values": [{}]}, "mark": {"type": "rect", "color": "#f0f0f0"}, "encoding": {"x": {"datum": -17.65, "type": "quantitative"}, "x2": {"datum": 70.28}, "y": {"datum": 72.92, "type": "quantitative"}, "y2": {"datum": -24.98}}},
{"data": {"name": "p3"}, "transform": [{"filter": "datum.s == 'CPS'"}], "mark": {"type": "point", "filled": true, "opacity": 1, "size": 76, "strokeWidth": 0},
 "encoding": {"x": {"field": "x", "type": "quantitative", "scale": {"domain": [-2.8, 68], "nice": false, "zero": false}, "axis": {"title": "Anemia (%) rank", "values": [0, 20, 40, 60], "zindex": 1}},
  "y": {"field": "y", "type": "quantitative", "scale": {"domain": [-4.2, 69.4], "nice": false, "zero": false}, "axis": {"title": "Stunting prevalence rank", "values": [0, 20, 40, 60], "zindex": 1}},
  "color": {"field": "s", "type": "nominal", "legend": null}, "shape": {"field": "s", "type": "nominal", "legend": null}}},
{"data": {"name": "p3"}, "transform": [{"filter": "datum.s == 'SPS'"}], "mark": {"type": "point", "filled": true, "opacity": 1, "size": 100, "strokeWidth": 0},
 "encoding": {"x": {"field": "x", "type": "quantitative"}, "y": {"field": "y", "type": "quantitative"},
  "color": {"field": "s", "type": "nominal", "legend": null}, "shape": {"field": "s", "type": "nominal", "legend": null}}},
{"data": {"name": "fits"}, "transform": [{"filter": "datum.p == 3 && datum.s == 'CPS'"}], "mark": {"type": "line", "color": "#c4a39b", "strokeWidth": 4},
 "encoding": {"x": {"field": "x", "type": "quantitative"}, "y": {"field": "y", "type": "quantitative"}}},
{"data": {"name": "fits"}, "transform": [{"filter": "datum.p == 3 && datum.s == 'SPS'"}], "mark": {"type": "line", "color": "#a6d8e3", "strokeWidth": 5},
 "encoding": {"x": {"field": "x", "type": "quantitative"}, "y": {"field": "y", "type": "quantitative"}}},
{"data": {"values": [{}]}, "mark": {"type": "text", "align": "left", "baseline": "alphabetic", "dx": 3, "dy": 15, "fontSize": 15, "text": "r"}, "encoding": {"x": {"datum": -2.8, "type": "quantitative"}, "y": {"datum": 69.4, "type": "quantitative"}}},
{"data": {"values": [{}]}, "mark": {"type": "text", "align": "left", "baseline": "alphabetic", "dx": 9, "dy": 15, "fontSize": 8, "text": "CPS"}, "encoding": {"x": {"datum": -2.8, "type": "quantitative"}, "y": {"datum": 69.4, "type": "quantitative"}}},
{"data": {"values": [{}]}, "mark": {"type": "text", "align": "left", "baseline": "alphabetic", "dx": 25, "dy": 15, "fontSize": 15, "text": "=.59"}, "encoding": {"x": {"datum": -2.8, "type": "quantitative"}, "y": {"datum": 69.4, "type": "quantitative"}}},
{"data": {"values": [{}]}, "mark": {"type": "text", "align": "right", "baseline": "alphabetic", "dx": -52, "dy": -7, "fontSize": 15, "text": "r"}, "encoding": {"x": {"datum": 68, "type": "quantitative"}, "y": {"datum": -4.2, "type": "quantitative"}}},
{"data": {"values": [{}]}, "mark": {"type": "text", "align": "right", "baseline": "alphabetic", "dx": -35, "dy": -7, "fontSize": 8, "text": "SPS"}, "encoding": {"x": {"datum": 68, "type": "quantitative"}, "y": {"datum": -4.2, "type": "quantitative"}}},
{"data": {"values": [{}]}, "mark": {"type": "text", "align": "right", "baseline": "alphabetic", "dx": -5, "dy": -7, "fontSize": 15, "text": "=.72"}, "encoding": {"x": {"datum": 68, "type": "quantitative"}, "y": {"datum": -4.2, "type": "quantitative"}}}
]
},
{
"width": 310, "height": 209,
"layer": [
{"data": {"name": "p4"}, "transform": [{"filter": "datum.s == 'CPS'"}], "mark": {"type": "point", "filled": true, "opacity": 1, "size": 76, "strokeWidth": 0},
 "encoding": {"x": {"field": "x", "type": "quantitative", "scale": {"domain": [-2.8, 68], "nice": false, "zero": false}, "axis": {"title": "U5MR rank", "values": [0, 20, 40, 60], "zindex": 1}},
  "y": {"field": "y", "type": "quantitative", "scale": {"domain": [-4.2, 69.4], "nice": false, "zero": false}, "axis": {"title": "Stunting prevalence rank", "values": [0, 20, 40, 60], "zindex": 1}},
  "color": {"field": "s", "type": "nominal", "legend": null}, "shape": {"field": "s", "type": "nominal", "legend": null}}},
{"data": {"name": "p4"}, "transform": [{"filter": "datum.s == 'SPS'"}], "mark": {"type": "point", "filled": true, "opacity": 1, "size": 100, "strokeWidth": 0},
 "encoding": {"x": {"field": "x", "type": "quantitative"}, "y": {"field": "y", "type": "quantitative"},
  "color": {"field": "s", "type": "nominal", "legend": null}, "shape": {"field": "s", "type": "nominal", "legend": null}}},
{"data": {"name": "fits"}, "transform": [{"filter": "datum.p == 4 && datum.s == 'CPS'"}], "mark": {"type": "line", "color": "#c4a39b", "strokeWidth": 4},
 "encoding": {"x": {"field": "x", "type": "quantitative"}, "y": {"field": "y", "type": "quantitative"}}},
{"data": {"name": "fits"}, "transform": [{"filter": "datum.p == 4 && datum.s == 'SPS'"}], "mark": {"type": "line", "color": "#a6d8e3", "strokeWidth": 5},
 "encoding": {"x": {"field": "x", "type": "quantitative"}, "y": {"field": "y", "type": "quantitative"}}},
{"data": {"values": [{}]}, "mark": {"type": "text", "align": "left", "baseline": "alphabetic", "dx": 3, "dy": 15, "fontSize": 15, "text": "r"}, "encoding": {"x": {"datum": -2.8, "type": "quantitative"}, "y": {"datum": 69.4, "type": "quantitative"}}},
{"data": {"values": [{}]}, "mark": {"type": "text", "align": "left", "baseline": "alphabetic", "dx": 9, "dy": 15, "fontSize": 8, "text": "CPS"}, "encoding": {"x": {"datum": -2.8, "type": "quantitative"}, "y": {"datum": 69.4, "type": "quantitative"}}},
{"data": {"values": [{}]}, "mark": {"type": "text", "align": "left", "baseline": "alphabetic", "dx": 25, "dy": 15, "fontSize": 15, "text": "=.61"}, "encoding": {"x": {"datum": -2.8, "type": "quantitative"}, "y": {"datum": 69.4, "type": "quantitative"}}},
{"data": {"values": [{}]}, "mark": {"type": "text", "align": "right", "baseline": "alphabetic", "dx": -44, "dy": -7, "fontSize": 15, "text": "r"}, "encoding": {"x": {"datum": 68, "type": "quantitative"}, "y": {"datum": -4.2, "type": "quantitative"}}},
{"data": {"values": [{}]}, "mark": {"type": "text", "align": "right", "baseline": "alphabetic", "dx": -27, "dy": -7, "fontSize": 8, "text": "SPS"}, "encoding": {"x": {"datum": 68, "type": "quantitative"}, "y": {"datum": -4.2, "type": "quantitative"}}},
{"data": {"values": [{}]}, "mark": {"type": "text", "align": "right", "baseline": "alphabetic", "dx": -5, "dy": -7, "fontSize": 15, "text": "=.8"}, "encoding": {"x": {"datum": 68, "type": "quantitative"}, "y": {"datum": -4.2, "type": "quantitative"}}}
]
},
{
"width": 310, "height": 209,
"layer": [
{"data": {"name": "p5"}, "transform": [{"filter": "datum.s == 'CPS'"}], "mark": {"type": "point", "filled": true, "opacity": 1, "size": 76, "strokeWidth": 0},
 "encoding": {"x": {"field": "x", "type": "quantitative", "scale": {"domain": [-2.8, 68], "nice": false, "zero": false}, "axis": {"title": "CMR rank", "values": [0, 20, 40, 60], "zindex": 1}},
  "y": {"field": "y", "type": "quantitative", "scale": {"domain": [-4.2, 69.4], "nice": false, "zero": false}, "axis": {"title": "Stunting prevalence rank", "values": [0, 20, 40, 60], "zindex": 1}},
  "color": {"field": "s", "type": "nominal", "legend": null}, "shape": {"field": "s", "type": "nominal", "legend": null}}},
{"data": {"name": "p5"}, "transform": [{"filter": "datum.s == 'SPS'"}], "mark": {"type": "point", "filled": true, "opacity": 1, "size": 100, "strokeWidth": 0},
 "encoding": {"x": {"field": "x", "type": "quantitative"}, "y": {"field": "y", "type": "quantitative"},
  "color": {"field": "s", "type": "nominal", "legend": null}, "shape": {"field": "s", "type": "nominal", "legend": null}}},
{"data": {"name": "fits"}, "transform": [{"filter": "datum.p == 5 && datum.s == 'CPS'"}], "mark": {"type": "line", "color": "#c4a39b", "strokeWidth": 4},
 "encoding": {"x": {"field": "x", "type": "quantitative"}, "y": {"field": "y", "type": "quantitative"}}},
{"data": {"name": "fits"}, "transform": [{"filter": "datum.p == 5 && datum.s == 'SPS'"}], "mark": {"type": "line", "color": "#a6d8e3", "strokeWidth": 5},
 "encoding": {"x": {"field": "x", "type": "quantitative"}, "y": {"field": "y", "type": "quantitative"}}},
{"data": {"values": [{}]}, "mark": {"type": "text", "align": "left", "baseline": "alphabetic", "dx": 3, "dy": 15, "fontSize": 15, "text": "r"}, "encoding": {"x": {"datum": -2.8, "type": "quantitative"}, "y": {"datum": 69.4, "type": "quantitative"}}},
{"data": {"values": [{}]}, "mark": {"type": "text", "align": "left", "baseline": "alphabetic", "dx": 9, "dy": 15, "fontSize": 8, "text": "CPS"}, "encoding": {"x": {"datum": -2.8, "type": "quantitative"}, "y": {"datum": 69.4, "type": "quantitative"}}},
{"data": {"values": [{}]}, "mark": {"type": "text", "align": "left", "baseline": "alphabetic", "dx": 25, "dy": 15, "fontSize": 15, "text": "=.6"}, "encoding": {"x": {"datum": -2.8, "type": "quantitative"}, "y": {"datum": 69.4, "type": "quantitative"}}},
{"data": {"values": [{}]}, "mark": {"type": "text", "align": "right", "baseline": "alphabetic", "dx": -52, "dy": -7, "fontSize": 15, "text": "r"}, "encoding": {"x": {"datum": 68, "type": "quantitative"}, "y": {"datum": -4.2, "type": "quantitative"}}},
{"data": {"values": [{}]}, "mark": {"type": "text", "align": "right", "baseline": "alphabetic", "dx": -35, "dy": -7, "fontSize": 8, "text": "SPS"}, "encoding": {"x": {"datum": 68, "type": "quantitative"}, "y": {"datum": -4.2, "type": "quantitative"}}},
{"data": {"values": [{}]}, "mark": {"type": "text", "align": "right", "baseline": "alphabetic", "dx": -5, "dy": -7, "fontSize": 15, "text": "=.79"}, "encoding": {"x": {"datum": 68, "type": "quantitative"}, "y": {"datum": -4.2, "type": "quantitative"}}}
]
},
{
"width": 310, "height": 209,
"layer": [
{"data": {"values": [{}]}, "mark": {"type": "rect", "color": "#f0f0f0"}, "encoding": {"x": {"datum": -17.65, "type": "quantitative"}, "x2": {"datum": 70.5}, "y": {"datum": 72.92, "type": "quantitative"}, "y2": {"datum": -24.27}}},
{"data": {"name": "p6"}, "transform": [{"filter": "datum.s == 'CPS'"}], "mark": {"type": "point", "filled": true, "opacity": 1, "size": 76, "strokeWidth": 0},
 "encoding": {"x": {"field": "x", "type": "quantitative", "scale": {"domain": [-2.8, 68], "nice": false, "zero": false}, "axis": {"title": "DPT3 (% coverage) rank", "values": [0, 20, 40, 60], "zindex": 1}},
  "y": {"field": "y", "type": "quantitative", "scale": {"domain": [-4.2, 69.4], "nice": false, "zero": false}, "axis": {"title": "Stunting prevalence rank", "values": [0, 20, 40, 60], "zindex": 1}},
  "color": {"field": "s", "type": "nominal", "legend": null}, "shape": {"field": "s", "type": "nominal", "legend": null}}},
{"data": {"name": "p6"}, "transform": [{"filter": "datum.s == 'SPS'"}], "mark": {"type": "point", "filled": true, "opacity": 1, "size": 100, "strokeWidth": 0},
 "encoding": {"x": {"field": "x", "type": "quantitative"}, "y": {"field": "y", "type": "quantitative"},
  "color": {"field": "s", "type": "nominal", "legend": null}, "shape": {"field": "s", "type": "nominal", "legend": null}}},
{"data": {"name": "fits"}, "transform": [{"filter": "datum.p == 6 && datum.s == 'CPS'"}], "mark": {"type": "line", "color": "#c4a39b", "strokeWidth": 4},
 "encoding": {"x": {"field": "x", "type": "quantitative"}, "y": {"field": "y", "type": "quantitative"}}},
{"data": {"name": "fits"}, "transform": [{"filter": "datum.p == 6 && datum.s == 'SPS'"}], "mark": {"type": "line", "color": "#a6d8e3", "strokeWidth": 5},
 "encoding": {"x": {"field": "x", "type": "quantitative"}, "y": {"field": "y", "type": "quantitative"}}},
{"data": {"values": [{}]}, "mark": {"type": "text", "align": "left", "baseline": "alphabetic", "dx": 3, "dy": 15, "fontSize": 15, "text": "r"}, "encoding": {"x": {"datum": -2.8, "type": "quantitative"}, "y": {"datum": 69.4, "type": "quantitative"}}},
{"data": {"values": [{}]}, "mark": {"type": "text", "align": "left", "baseline": "alphabetic", "dx": 9, "dy": 15, "fontSize": 8, "text": "CPS"}, "encoding": {"x": {"datum": -2.8, "type": "quantitative"}, "y": {"datum": 69.4, "type": "quantitative"}}},
{"data": {"values": [{}]}, "mark": {"type": "text", "align": "left", "baseline": "alphabetic", "dx": 25, "dy": 15, "fontSize": 15, "text": "=-.45"}, "encoding": {"x": {"datum": -2.8, "type": "quantitative"}, "y": {"datum": 69.4, "type": "quantitative"}}},
{"data": {"values": [{}]}, "mark": {"type": "text", "align": "right", "baseline": "alphabetic", "dx": -57, "dy": -7, "fontSize": 15, "text": "r"}, "encoding": {"x": {"datum": 68, "type": "quantitative"}, "y": {"datum": -4.2, "type": "quantitative"}}},
{"data": {"values": [{}]}, "mark": {"type": "text", "align": "right", "baseline": "alphabetic", "dx": -40, "dy": -7, "fontSize": 8, "text": "SPS"}, "encoding": {"x": {"datum": 68, "type": "quantitative"}, "y": {"datum": -4.2, "type": "quantitative"}}},
{"data": {"values": [{}]}, "mark": {"type": "text", "align": "right", "baseline": "alphabetic", "dx": -5, "dy": -7, "fontSize": 15, "text": "=-.49"}, "encoding": {"x": {"datum": 68, "type": "quantitative"}, "y": {"datum": -4.2, "type": "quantitative"}}}
]
}
]
}
